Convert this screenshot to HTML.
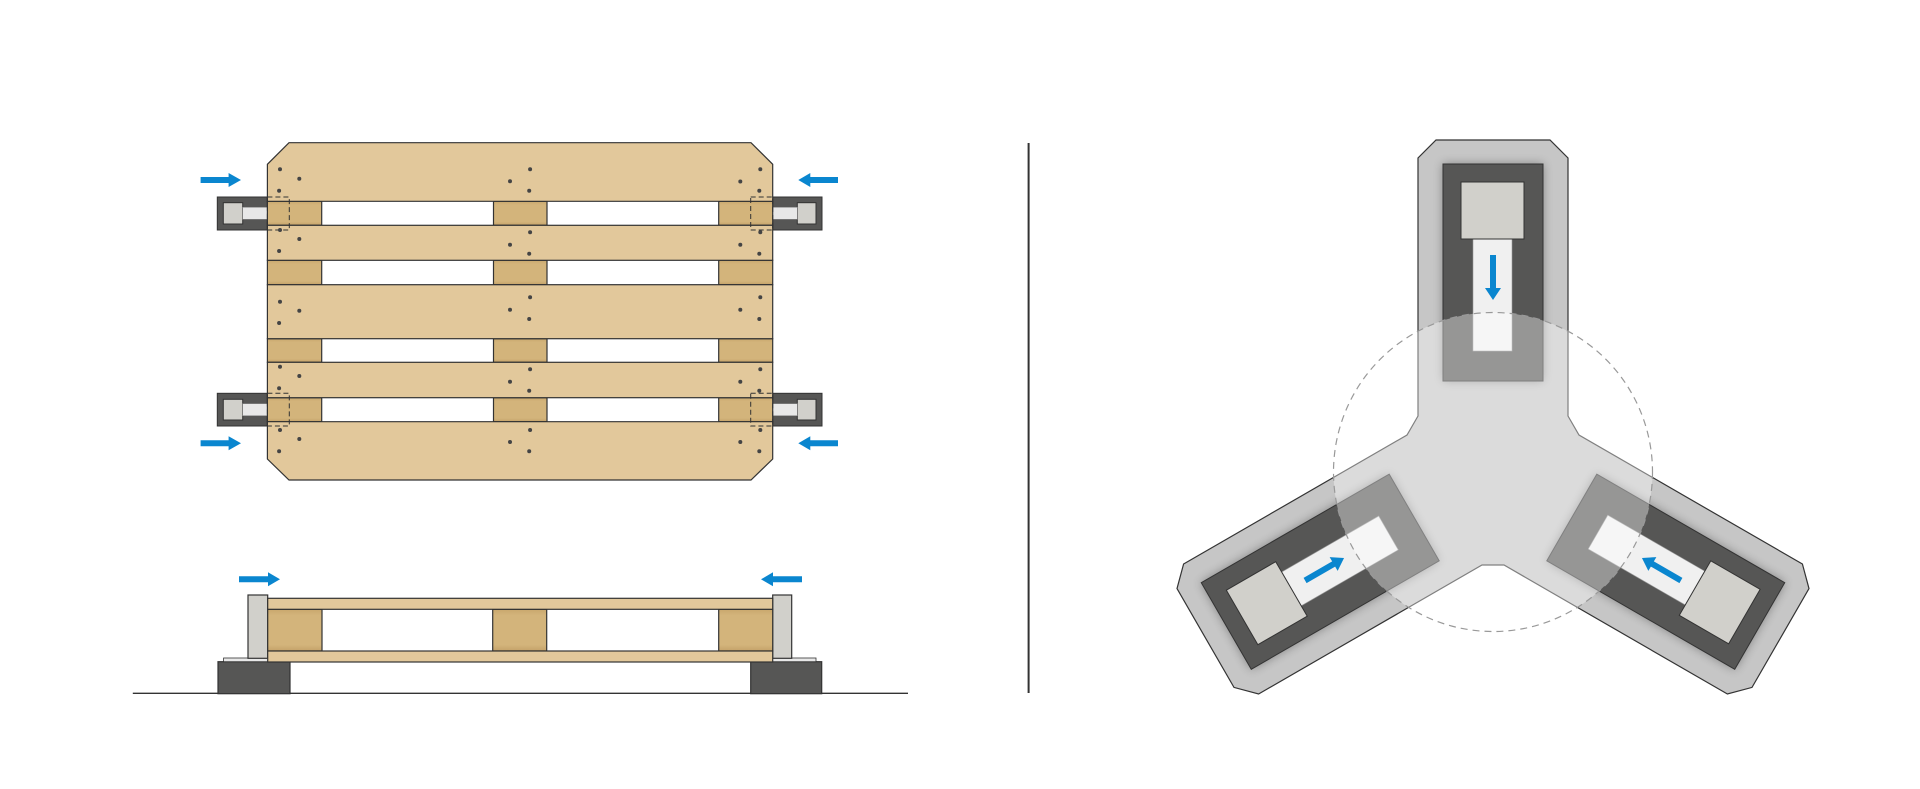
<!DOCTYPE html>
<html><head><meta charset="utf-8"><style>
html,body{margin:0;padding:0;background:#fff;}
svg{display:block;}
</style></head><body>
<svg width="1920" height="789" viewBox="0 0 1920 789" xmlns="http://www.w3.org/2000/svg">
<defs>
<linearGradient id="blk" x1="0" y1="0" x2="0" y2="1"><stop offset="0" stop-color="#c9a86e"/><stop offset="0.15" stop-color="#d3b47b"/><stop offset="0.85" stop-color="#d3b47b"/><stop offset="1" stop-color="#c4a269"/></linearGradient>
<filter id="sh" x="-30%" y="-30%" width="160%" height="160%"><feGaussianBlur stdDeviation="5"/></filter>
<g id="arm">
<rect x="-50" y="-308" width="100" height="217" fill="#000" opacity="0.35" filter="url(#sh)"/>
<rect x="-50" y="-308" width="100" height="217" fill="#565655" stroke="#333" stroke-width="1"/>
<rect x="-20" y="-233" width="39" height="112" fill="#f0f0f0" stroke="#999" stroke-width="0.6"/>
<rect x="-32" y="-290" width="63" height="57" fill="#d1d0cb" stroke="#333" stroke-width="1"/>
<polygon points="-3,-217 3,-217 3,-184 8,-184 0,-172 -8,-184 -3,-184" fill="#0a86cf"/>
</g>
</defs>

<!-- LEFT: top view clamps -->
<g stroke="#333" stroke-width="1">
<rect x="217.3" y="197" width="50" height="33" fill="#565655"/>
<rect x="223.3" y="202.7" width="19.4" height="21.3" fill="#d1d0cb"/>
<rect x="242.7" y="207.3" width="25" height="12" fill="#e8e8e8" stroke="#888" stroke-width="0.6"/>
<rect x="217.3" y="393.3" width="50" height="32.7" fill="#565655"/>
<rect x="223.3" y="399.3" width="19.4" height="20.7" fill="#d1d0cb"/>
<rect x="242.7" y="403.7" width="25" height="12" fill="#e8e8e8" stroke="#888" stroke-width="0.6"/>
<rect x="772.7" y="197" width="49.3" height="33" fill="#565655"/>
<rect x="797.3" y="202.7" width="18.7" height="21.3" fill="#d1d0cb"/>
<rect x="772.7" y="207.3" width="24.6" height="12" fill="#e8e8e8" stroke="#888" stroke-width="0.6"/>
<rect x="772.7" y="393.3" width="49.3" height="32.7" fill="#565655"/>
<rect x="797.3" y="399.3" width="18.7" height="20.7" fill="#d1d0cb"/>
<rect x="772.7" y="403.7" width="24.6" height="12" fill="#e8e8e8" stroke="#888" stroke-width="0.6"/>
</g>

<!-- pallet -->
<g stroke="#333" stroke-width="1.2">
<g fill="url(#blk)">
<rect x="267.4" y="201.3" width="54.3" height="24"/><rect x="493.5" y="201.3" width="53.5" height="24"/><rect x="718.7" y="201.3" width="54" height="24"/>
<rect x="267.4" y="260.3" width="54.3" height="24.4"/><rect x="493.5" y="260.3" width="53.5" height="24.4"/><rect x="718.7" y="260.3" width="54" height="24.4"/>
<rect x="267.4" y="338.7" width="54.3" height="23.6"/><rect x="493.5" y="338.7" width="53.5" height="23.6"/><rect x="718.7" y="338.7" width="54" height="23.6"/>
<rect x="267.4" y="397.7" width="54.3" height="24"/><rect x="493.5" y="397.7" width="53.5" height="24"/><rect x="718.7" y="397.7" width="54" height="24"/>
</g>
<g fill="#e2c89b">
<polygon points="289,142.7 751,142.7 772.7,164.3 772.7,201.3 267.4,201.3 267.4,164.3"/>
<rect x="267.4" y="225.3" width="505.3" height="35"/>
<rect x="267.4" y="284.7" width="505.3" height="54"/>
<rect x="267.4" y="362.3" width="505.3" height="35.4"/>
<polygon points="267.4,421.7 772.7,421.7 772.7,459 751,480 289,480 267.4,459"/>
</g>
</g>
<g fill="none" stroke="#333" stroke-width="1" stroke-dasharray="5,3">
<rect x="267.4" y="197" width="21.9" height="33"/>
<rect x="267.4" y="393.3" width="21.9" height="32.7"/>
<rect x="750.7" y="197" width="22" height="33"/>
<rect x="750.7" y="393.3" width="22" height="32.7"/>
</g>
<g fill="#444">
<circle cx="280" cy="169.3" r="2"/><circle cx="299.3" cy="178.7" r="2"/><circle cx="279.1" cy="190.7" r="2"/>
<circle cx="530.1" cy="169.3" r="2"/><circle cx="510" cy="181.3" r="2"/><circle cx="529.2" cy="190.7" r="2"/>
<circle cx="760.3" cy="169.3" r="2"/><circle cx="740.3" cy="181.5" r="2"/><circle cx="759.3" cy="190.7" r="2"/>
<circle cx="280" cy="230" r="2"/><circle cx="299.3" cy="239" r="2"/><circle cx="279.1" cy="251" r="2"/>
<circle cx="530.1" cy="232.3" r="2"/><circle cx="510" cy="244.7" r="2"/><circle cx="529.2" cy="253.7" r="2"/>
<circle cx="760.3" cy="232.3" r="2"/><circle cx="740.3" cy="244.7" r="2"/><circle cx="759.3" cy="253.7" r="2"/>
<circle cx="280" cy="301.7" r="2"/><circle cx="299.3" cy="310.7" r="2"/><circle cx="279.1" cy="323" r="2"/>
<circle cx="530.1" cy="297.3" r="2"/><circle cx="510" cy="309.7" r="2"/><circle cx="529.2" cy="319" r="2"/>
<circle cx="760.3" cy="297.3" r="2"/><circle cx="740.3" cy="309.7" r="2"/><circle cx="759.3" cy="319" r="2"/>
<circle cx="280" cy="366.7" r="2"/><circle cx="299.3" cy="376" r="2"/><circle cx="279.1" cy="388.3" r="2"/>
<circle cx="530.1" cy="369.3" r="2"/><circle cx="510" cy="381.7" r="2"/><circle cx="529.2" cy="390.7" r="2"/>
<circle cx="760.3" cy="369.3" r="2"/><circle cx="740.3" cy="381.7" r="2"/><circle cx="759.3" cy="390.7" r="2"/>
<circle cx="280" cy="430" r="2"/><circle cx="299.3" cy="439" r="2"/><circle cx="279.1" cy="451.3" r="2"/>
<circle cx="530.1" cy="430" r="2"/><circle cx="510" cy="442" r="2"/><circle cx="529.2" cy="451.3" r="2"/>
<circle cx="760.3" cy="430" r="2"/><circle cx="740.3" cy="442" r="2"/><circle cx="759.3" cy="451.3" r="2"/>
</g>
<g fill="#0a86cf">
<polygon points="200.6,177 228.6,177 228.6,173 241,180 228.6,187 228.6,183 200.6,183"/>
<polygon points="838,177 810.3,177 810.3,173 798.3,180 810.3,187 810.3,183 838,183"/>
<polygon points="200.6,440.3 228.6,440.3 228.6,436.3 241,443.3 228.6,450.3 228.6,446.3 200.6,446.3"/>
<polygon points="838,440.3 810.3,440.3 810.3,436.3 798.3,443.3 810.3,450.3 810.3,446.3 838,446.3"/>
</g>

<!-- SIDE VIEW -->
<line x1="132.8" y1="693.3" x2="908" y2="693.3" stroke="#333" stroke-width="1.3"/>
<g stroke="#333" stroke-width="1.2">
<rect x="218" y="661.7" width="72" height="32" fill="#565655"/>
<rect x="750.7" y="661.7" width="71" height="32" fill="#565655"/>
<rect x="223.6" y="658" width="45" height="3.7" fill="#e8e8e8" stroke-width="0.8"/>
<rect x="772" y="658" width="44" height="3.7" fill="#e8e8e8" stroke-width="0.8"/>
<rect x="248" y="595" width="19.7" height="63.3" fill="#d1d0cb"/>
<rect x="772.7" y="595" width="19" height="63.3" fill="#d1d0cb"/>
<rect x="267.7" y="609.3" width="54.3" height="41.7" fill="url(#blk)"/>
<rect x="492.7" y="609.3" width="54" height="41.7" fill="url(#blk)"/>
<rect x="718.7" y="609.3" width="54" height="41.7" fill="url(#blk)"/>
<rect x="267.7" y="598.3" width="505" height="11" fill="#e2c89b"/>
<rect x="267.7" y="651" width="505" height="11" fill="#e2c89b"/>
</g>
<g fill="#0a86cf">
<polygon points="239,576.3 268,576.3 268,572.3 280,579.3 268,586.3 268,582.3 239,582.3"/>
<polygon points="802,576.3 773,576.3 773,572.3 761,579.3 773,586.3 773,582.3 802,582.3"/>
</g>

<line x1="1028.6" y1="143" x2="1028.6" y2="693" stroke="#333" stroke-width="2"/>

<g transform="translate(1493,472)">
<polygon points="-75,-56 -75,-314 -57,-332 57,-332 75,-314 75,-56 86,-37 309.4,92 316,116.6 259,215.4 234.4,222 11,93 -11,93 -234.4,222 -259,215.4 -316,116.6 -309.4,92 -86,-37" fill="#c6c6c6" stroke="#333" stroke-width="1.2"/>
<use href="#arm"/>
<use href="#arm" transform="rotate(120)"/>
<use href="#arm" transform="rotate(240)"/>
<circle cx="0" cy="0" r="159.5" fill="#fff" fill-opacity="0.38" stroke="#999" stroke-width="1.2" stroke-dasharray="7,5"/>
</g>
</svg>
</body></html>
